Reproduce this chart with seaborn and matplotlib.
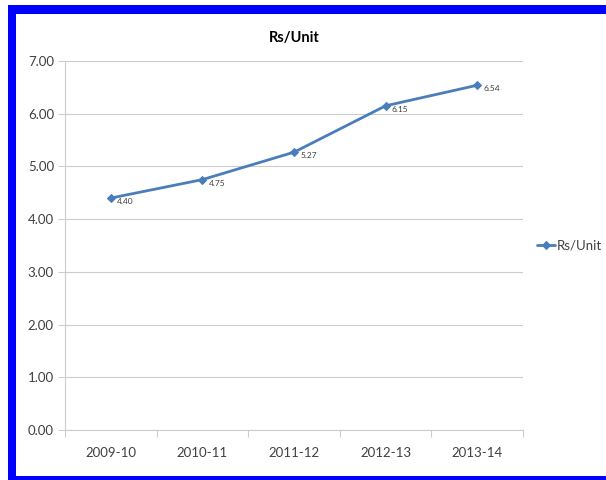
import matplotlib
matplotlib.use("Agg")
import matplotlib.pyplot as plt
from matplotlib.patches import Rectangle
import seaborn as sns
import pandas as pd
import numpy as np

years = ["2009-10", "2010-11", "2011-12", "2012-13", "2013-14"]
rate = [4.40, 4.75, 5.27, 6.15, 6.54]
y_ticks = [0, 1, 2, 3, 4, 5, 6, 7]

sns.set_theme(style="white")
plt.rcParams["font.family"] = ["Lato", "DejaVu Sans"]

line_color = "#4A7EBB"
text_color = "#404040"
grid_color = "#CCCCCC"

df = pd.DataFrame({"Year": years, "Rs/Unit": rate})

W, H = 606, 480
fig = plt.figure(figsize=(W / 100, H / 100), dpi=100)
fig.patch.set_facecolor("white")

# blue frame around the chart
fig.patches.append(Rectangle((8, 0), W, H - 5, transform=None,
                             facecolor="#0000FF", edgecolor="none", zorder=-2))
fig.patches.append(Rectangle((16, 4), W, H - 18, transform=None,
                             facecolor="white", edgecolor="none", zorder=-1))

ax = fig.add_axes([65 / W, 50 / H, (523 - 65) / W, (430 - 61) / H])
ax.set_facecolor("none")

sns.lineplot(data=df, x="Year", y="Rs/Unit", ax=ax, color=line_color,
             marker="D", markersize=4.5, markeredgecolor=line_color,
             linewidth=2, sort=False, label="Rs/Unit", legend=False)

for i, v in enumerate(rate):
    ax.annotate(f"{v:.2f}", (i, v), xytext=(4.5, -2.5), textcoords="offset points",
                fontsize=6, color=text_color, ha="left", va="center")

ax.set_xlim(-0.5, len(years) - 0.5)
ax.set_ylim(0, 7)
ax.set_yticks(y_ticks)
ax.set_yticklabels([f"{t:.2f}" for t in y_ticks])
ax.set_xticks(range(len(years)))
ax.set_xticklabels(years)
ax.set_xticks(np.arange(-0.5, len(years), 1), minor=True)
ax.tick_params(axis="x", which="major", length=0, pad=12, labelsize=9.5,
               labelcolor=text_color)
ax.tick_params(axis="x", which="minor", length=5, width=0.8, color=grid_color,
               bottom=True)
ax.tick_params(axis="y", length=5, width=0.8, color=grid_color, left=True,
               labelsize=9.5, labelcolor=text_color, pad=3)
ax.set_xlabel("")
ax.set_ylabel("")

ax.grid(axis="y", color=grid_color, linewidth=0.8)
ax.grid(axis="x", visible=False)
for side in ["top", "right"]:
    ax.spines[side].set_visible(False)
for side in ["left", "bottom"]:
    ax.spines[side].set_color(grid_color)
    ax.spines[side].set_linewidth(0.8)

ax.set_title("Rs/Unit", fontsize=10.5, fontweight="bold", color="black", pad=14)

ax.legend(loc="center left", bbox_to_anchor=(1.03, 0.5), frameon=False,
          fontsize=9.5, handlelength=1.4, handletextpad=0.1, borderpad=0,
          borderaxespad=0, labelcolor=text_color)

fig.savefig("out.png", dpi=100)
